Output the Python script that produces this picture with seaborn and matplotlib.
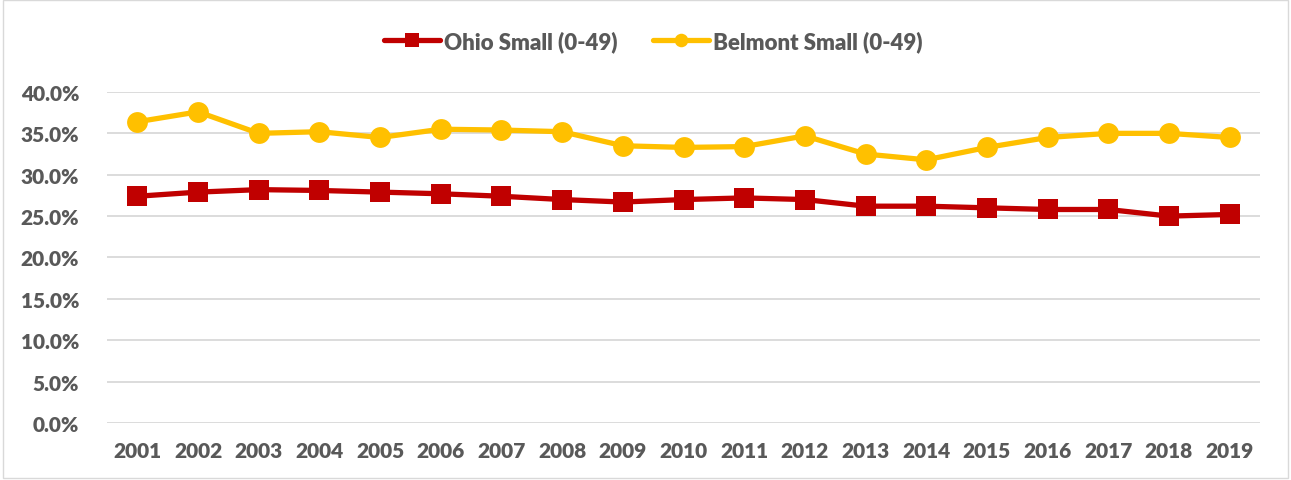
import numpy as np
import pandas as pd
import seaborn as sns
from matplotlib import pyplot as plt
from matplotlib.patches import Rectangle
from matplotlib.ticker import PercentFormatter

## Values (percent)
years = [str(y) for y in range(2001, 2020)]
ohio_small = [27.4, 27.9, 28.2, 28.1, 27.9, 27.7, 27.4, 27.0, 26.7, 27.0,
              27.2, 27.0, 26.2, 26.2, 26.0, 25.8, 25.8, 25.0, 25.2]
belmont_small = [36.4, 37.6, 35.0, 35.2, 34.5, 35.5, 35.4, 35.2, 33.5, 33.3,
                 33.4, 34.7, 32.5, 31.8, 33.3, 34.5, 35.0, 35.0, 34.5]

data = pd.DataFrame({"Year": years, "Ohio Small (0-49)": ohio_small,
                     "Belmont Small (0-49)": belmont_small})

sns.set_style("white")
plt.rcParams['font.family'] = ['Lato', 'DejaVu Sans']

fig = plt.figure(figsize=(12.91, 4.81), dpi=100)
ax = fig.add_axes([0.0829, 0.1185, 0.8931, 0.6882])

# Ohio series
sns.lineplot(data=data, x="Year", y="Ohio Small (0-49)", ax=ax, color="#C00000",
             linewidth=3.8, marker="s", markersize=15, markeredgewidth=0,
             label="Ohio Small (0-49)", sort=False)
# Belmont series
sns.lineplot(data=data, x="Year", y="Belmont Small (0-49)", ax=ax, color="#FFC000",
             linewidth=3.8, marker="o", markersize=15, markeredgewidth=0,
             label="Belmont Small (0-49)", sort=False)

ax.set_xlim(-0.5, len(years) - 0.5)
ax.set_ylim(0, 40)
ax.set_yticks(np.arange(0, 41, 5))
ax.yaxis.set_major_formatter(PercentFormatter(decimals=1))
ax.grid(axis="y", color="#D9D9D9", linewidth=1.3)
ax.set_axisbelow(True)
for s in ax.spines.values():
    s.set_visible(False)
ax.set_xlabel("")
ax.set_ylabel("")
ax.tick_params(axis="both", length=0, labelsize=15, labelcolor="#595959")
ax.tick_params(axis="x", pad=13)
ax.tick_params(axis="y", pad=20)
for lbl in ax.get_xticklabels() + ax.get_yticklabels():
    lbl.set_fontweight("heavy")

leg = ax.legend(loc="center", bbox_to_anchor=(0.474, 1.154), ncol=2, frameon=False,
                fontsize=16, handlelength=2.5, handletextpad=0.2, columnspacing=1.6,
                markerscale=0.65)
for t in leg.get_texts():
    t.set_color("#595959")
    t.set_fontweight("heavy")

# light outer border like the chart area
fig.patches.append(Rectangle((0.002, 0.004), 0.996, 0.994, transform=fig.transFigure,
                             fill=False, edgecolor="#D9D9D9", linewidth=1))

plt.savefig("out.png", dpi=100)
